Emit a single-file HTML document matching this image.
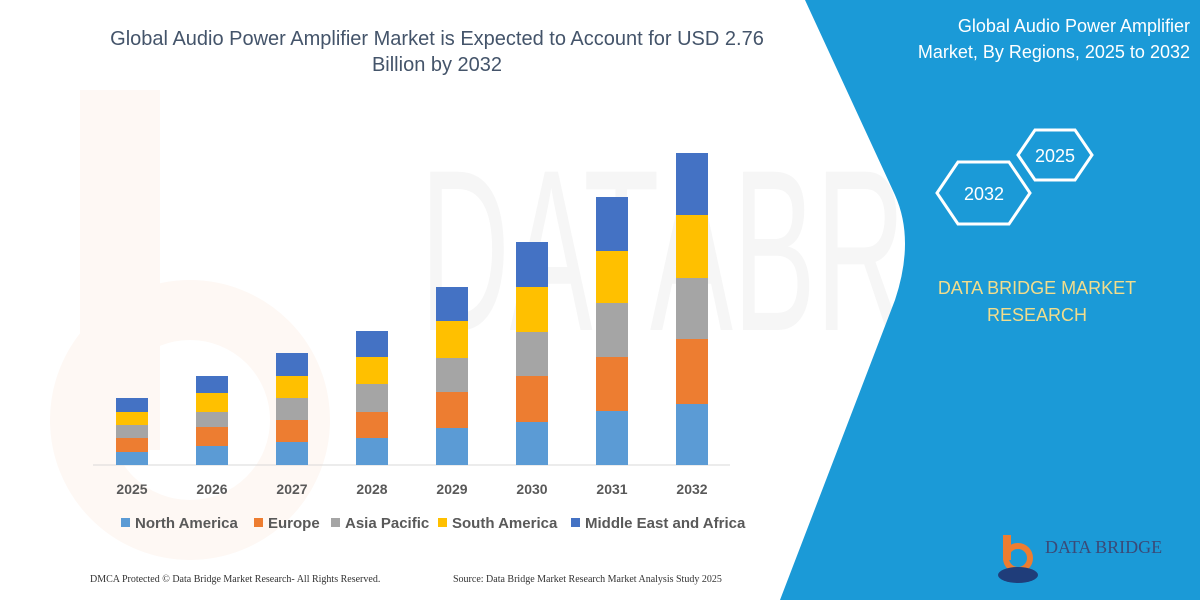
<!DOCTYPE html>
<html><head><meta charset="utf-8"><style>
body{margin:0;width:1200px;height:600px;overflow:hidden;background:#fff;font-family:"Liberation Sans",sans-serif}
</style></head><body>
<svg width="1200" height="600" xmlns="http://www.w3.org/2000/svg" style="position:absolute;left:0;top:0">
<!-- watermark -->
<text x="420" y="330" font-size="230" fill="#f6f6f6" font-family="Liberation Sans" textLength="520" lengthAdjust="spacingAndGlyphs">DATABRI</text>
<path d="M80 90 h80 v360 h-80z" fill="#fef8f4"/>
<circle cx="190" cy="420" r="110" fill="none" stroke="#fef8f4" stroke-width="60"/>
<!-- blue panel -->
<path d="M805 0 L1200 0 L1200 600 L780 600 L895 300 Q915 240 895 195 Z" fill="#1b9ad7"/>
<!-- title -->
<g font-size="20" fill="#44546a" text-anchor="middle">
<text x="437" y="45">Global Audio Power Amplifier Market is Expected to Account for USD 2.76</text>
<text x="437" y="71">Billion by 2032</text>
</g>
<!-- axis -->
<line x1="93" y1="465" x2="730" y2="465" stroke="#d9d9d9" stroke-width="1"/>
<g id="bars"></g>
<!-- years -->
<g font-size="14" font-weight="bold" fill="#595959" text-anchor="middle">
<text x="132" y="494">2025</text><text x="212" y="494">2026</text><text x="292" y="494">2027</text><text x="372" y="494">2028</text>
<text x="452" y="494">2029</text><text x="532" y="494">2030</text><text x="612" y="494">2031</text><text x="692" y="494">2032</text>
</g>
<!-- legend -->
<g font-size="15" font-weight="bold" fill="#595959">
<rect x="121" y="518" width="9" height="9" fill="#5b9bd5"/><text x="135" y="528">North America</text>
<rect x="254" y="518" width="9" height="9" fill="#ed7d31"/><text x="268" y="528">Europe</text>
<rect x="331" y="518" width="9" height="9" fill="#a5a5a5"/><text x="345" y="528">Asia Pacific</text>
<rect x="438" y="518" width="9" height="9" fill="#ffc000"/><text x="452" y="528">South America</text>
<rect x="571" y="518" width="9" height="9" fill="#4472c4"/><text x="585" y="528">Middle East and Africa</text>
</g>
<!-- footer -->
<g font-family="Liberation Serif" font-size="10" fill="#333">
<text x="90" y="582">DMCA Protected © Data Bridge Market Research- All Rights Reserved.</text>
<text x="453" y="582">Source: Data Bridge Market Research Market Analysis Study 2025</text>
</g>
<!-- right panel -->
<g font-size="18" fill="#fff" text-anchor="end">
<text x="1190" y="32">Global Audio Power Amplifier</text>
<text x="1190" y="58">Market, By Regions, 2025 to 2032</text>
</g>
<polygon points="1018,155 1035,130 1075,130 1092,155 1075,180 1035,180" fill="none" stroke="#fff" stroke-width="3"/>
<polygon points="937,193 958,162 1009,162 1030,193 1009,224 958,224" fill="none" stroke="#fff" stroke-width="3"/>
<text x="1055" y="162" font-size="18" fill="#fff" text-anchor="middle">2025</text>
<text x="984" y="200" font-size="18" fill="#fff" text-anchor="middle">2032</text>
<g font-size="18" fill="#f2dd8c" text-anchor="middle">
<text x="1037" y="294">DATA BRIDGE MARKET</text>
<text x="1037" y="321">RESEARCH</text>
</g>
<!-- logo -->
<path d="M1003 535 h8 v25 h-8z" fill="#ed7d31"/>
<circle cx="1018" cy="558" r="12" fill="none" stroke="#ed7d31" stroke-width="6"/>
<ellipse cx="1018" cy="575" rx="20" ry="8" fill="#1f3d7a"/>
<text x="1045" y="553" font-family="Liberation Serif" font-size="18" fill="#3a4a78">DATA BRIDGE</text>
</svg>
<script>
var xs=[116,196,276,356,436,516,596,676];
var d=[[452,438,425,412,398],[446,427,412,393,376],[442,420,398,376,353],[438,412,384,357,331],[428,392,358,321,287],[422,376,332,287,242],[411,357,303,251,197],[404,339,278,215,153]];
var c=["#5b9bd5","#ed7d31","#a5a5a5","#ffc000","#4472c4"];
var g=document.getElementById("bars"),s="";
for(var i=0;i<8;i++){var prev=465;for(var j=0;j<5;j++){var t=d[i][j];s+='<rect x="'+xs[i]+'" y="'+t+'" width="32" height="'+(prev-t)+'" fill="'+c[j]+'"/>';prev=t;}}
g.innerHTML=s;
</script>
</body></html>
